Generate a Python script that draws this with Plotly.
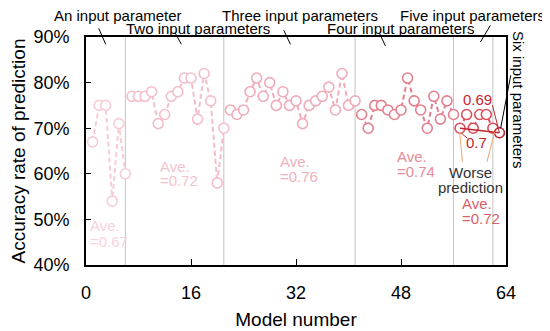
import plotly.graph_objects as go

# ---- data (accuracy in %) ----
acc_one = [67, 75, 75, 54, 71, 60]
acc_two = [77, 77, 77, 78, 71, 73, 77, 78, 81, 81, 72, 82, 76, 58, 70]
acc_three = [74, 73, 74, 78, 81, 77, 80, 75, 78, 75, 76, 71, 75, 76, 77, 79, 74, 82, 75, 76]
acc_four = [73, 70, 75, 75, 74, 73, 74, 81, 76, 74, 70, 77, 72, 76, 73]
acc_five = [70, 73, 70, 73, 73, 70]
acc_six = [69]
groups = [acc_one, acc_two, acc_three, acc_four, acc_five, acc_six]
group_names = ["An input parameter", "Two input parameters", "Three input parameters",
               "Four input parameters", "Five input parameters", "Six input parameters"]
averages = ["0.67", "0.72", "0.76", "0.74", "0.72"]
x_ticks = [0, 16, 32, 48, 64]
y_ticks = [40, 50, 60, 70, 80, 90]
y_tick_text = ["40%", "50%", "60%", "70%", "80%", "90%"]

colors = ["#f7cdd5", "#f4bec8", "#f0acb9", "#e4808e", "#d9505c", "#c4262f"]
text_colors = ["#f7d3da", "#f4c4cd", "#f0b0bc", "#e78c97", "#dd5f69"]

FONT = "Liberation Sans, Arial, sans-serif"
XMAX = 64.0

fig = go.Figure()
start = 1
bounds = []
for g, col in zip(groups, colors):
    xs = list(range(start, start + len(g)))
    fig.add_trace(go.Scatter(
        x=xs, y=g, mode="lines+markers",
        line=dict(color=col, width=2, dash="5px,3px"),
        marker=dict(symbol="circle", size=10, color="white",
                    line=dict(color=col, width=1.6)),
        showlegend=False, cliponaxis=False))
    start += len(g)
    bounds.append(xs[-1])

# group separator lines
for b in bounds[:-1]:
    fig.add_shape(type="line", xref="x", yref="paper", x0=b, x1=b, y0=0, y1=1,
                  line=dict(color="#c4c4c4", width=1), layer="below")

ann = []
def txt(x, y, s, color="black", size=15, xref="x", yref="y", xanchor="center", **kw):
    ann.append(dict(x=x, y=y, text=s, xref=xref, yref=yref, showarrow=False,
                    xanchor=xanchor, yanchor="middle",
                    font=dict(family=FONT, size=size, color=color), **kw))

def seg(x0, y0, x1, y1, color="black", width=1, xref="x", yref="y"):
    fig.add_shape(type="line", xref=xref, yref=yref, x0=x0, y0=y0, x1=x1, y1=y1,
                  line=dict(color=color, width=width))

# top group labels with leader lines (x in model units -> paper)
top_pos = [(4.9, 1.096), (17.0, 1.038), (32.6, 1.096), (47.95, 1.037), (58.93, 1.096)]
leaders = [(1.94, 1.038, 3.0, 0.968), (13.62, 1.016, 14.54, 0.968),
           (30.13, 1.03, 31.15, 0.968), (44.75, 1.015, 45.62, 0.961),
           (61.62, 1.051, 60.10, 0.978)]
for name, (x, y), (a, b, c, d) in zip(group_names[:5], top_pos, leaders):
    txt(x / XMAX, y, name, xref="paper", yref="paper")
    seg(a / XMAX, b, c / XMAX, d, xref="paper", yref="paper")

# six input parameters (vertical)
txt(65.94 / XMAX, 0.725, group_names[5], xref="paper", yref="paper", textangle=90)
seg(64.72 / XMAX, 0.832, 63.19 / XMAX, 0.6, xref="paper", yref="paper")

# average labels
ave_pos = [(0.26, 48.6, 45.1), (10.93, 61.55, 58.5), (29.26, 62.65, 59.4),
           (47.04, 63.74, 60.46), (56.94, 53.4, 50.26)]
for av, (x, y1, y2), col in zip(averages, ave_pos, text_colors):
    txt(x, y1, "Ave.", color=col, xanchor="left")
    txt(x, y2, "=" + av, color=col, xanchor="left")

# highlight annotations
seg(57, acc_five[0], 63, acc_six[0], color="#c4262f", width=1.5)
seg(61.93, 75.05, 63, acc_six[0], color="#c4262f", width=1)
seg(57.2, 68.9, 58.1, 67.8, color="#c4262f", width=1)
txt(59.6, 76.3, "0.69", color="#c4262f")
txt(59.5, 66.8, "0.7", color="#c4262f")
seg(57.36, 62.65, 56.94, 69.2, color="#f2a46e", width=1)
seg(61.1, 62.65, 62.28, 69.2, color="#f2a46e", width=1)
txt(58.62, 60.24, "Worse", color="#333333")
txt(58.58, 56.96, "prediction", color="#333333")

fig.update_layout(
    width=550, height=331,
    margin=dict(l=78, r=52, t=29, b=74),
    paper_bgcolor="white", plot_bgcolor="white",
    font=dict(family=FONT, color="black"),
    annotations=ann,
    xaxis=dict(range=[0, 64], tickvals=x_ticks, ticks="inside", ticklen=6,
               tickwidth=1.2, tickcolor="black", showgrid=False, zeroline=False,
               showline=True, linecolor="black", linewidth=1.6, mirror=True,
               tickfont=dict(size=18), ticklabelstandoff=11, automargin=False,
               title=dict(text="Model number", font=dict(size=19), standoff=10)),
    yaxis=dict(range=[40, 90], tickvals=y_ticks, ticktext=y_tick_text,
               ticks="inside", ticklen=5, tickwidth=1.2, tickcolor="black",
               showgrid=False, zeroline=False, showline=True, linecolor="black",
               linewidth=1.6, mirror=True, tickfont=dict(size=18),
               ticklabelstandoff=11, automargin=False,
               title=dict(text="Accuracy rate of prediction", font=dict(size=19),
                          standoff=3)),
)
fig.write_html("out.html")
